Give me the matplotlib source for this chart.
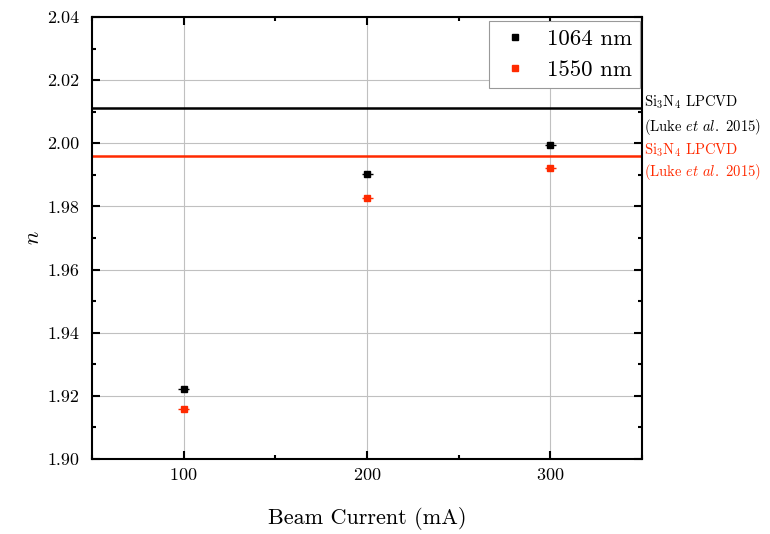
import matplotlib
matplotlib.use("Agg")
import matplotlib.pyplot as plt
from matplotlib.lines import Line2D
from matplotlib.ticker import MultipleLocator

plt.rcParams['font.family'] = 'cmr10'
plt.rcParams['mathtext.fontset'] = 'cm'
plt.rcParams['axes.formatter.use_mathtext'] = True

# refractive index vs. beam current
current = [100, 200, 300]
n_1064 = [1.9222, 1.9902, 1.9993]
n_1550 = [1.9160, 1.9827, 1.9922]
current_err = [3, 3, 3]

# Si3N4 LPCVD references (Luke et al. 2015)
ref_1064 = 2.0112
ref_1550 = 1.9960

red = '#ff2a00'

fig = plt.figure(figsize=(7.7, 5.34), dpi=100)
ax = fig.add_axes([0.1195, 0.1404, 0.7143, 0.8278])

ax.grid(True, color='#c0c0c0', linewidth=0.8, zorder=0)
ax.axhline(ref_1064, color='black', linewidth=1.8, zorder=2)
ax.axhline(ref_1550, color=red, linewidth=1.8, zorder=2)

ax.errorbar(current, n_1064, xerr=current_err, fmt='s', color='black',
            markersize=4.5, elinewidth=1, capsize=0, zorder=3)
ax.errorbar(current, n_1550, xerr=current_err, fmt='s', color=red,
            markersize=4.5, elinewidth=1, capsize=0, zorder=3)

ax.set_xlim(50, 350)
ax.set_ylim(1.90, 2.04)
ax.xaxis.set_major_locator(MultipleLocator(100))
ax.xaxis.set_minor_locator(MultipleLocator(50))
ax.yaxis.set_major_locator(MultipleLocator(0.02))
ax.yaxis.set_minor_locator(MultipleLocator(0.01))
ax.yaxis.set_major_formatter(plt.FormatStrFormatter('%.2f'))
ax.tick_params(which='both', direction='in', top=True, right=True, labelsize=13)
ax.tick_params(axis='y', pad=9)
ax.tick_params(axis='x', pad=6)
ax.tick_params(which='major', length=6, width=1.5)
ax.tick_params(which='minor', length=3, width=1.5)
for s in ax.spines.values():
    s.set_linewidth(1.5)

ax.set_xlabel('Beam Current (mA)', fontsize=16, labelpad=17)
ax.set_ylabel('$n$', fontsize=16, labelpad=3)

handles = [Line2D([], [], ls='none', marker='s', ms=4.5, color='black'),
           Line2D([], [], ls='none', marker='s', ms=4.5, color=red)]
leg = ax.legend(handles, ['1064 nm', '1550 nm'], loc='upper right',
                bbox_to_anchor=(0.997, 0.99), borderaxespad=0, fontsize=16.5,
                fancybox=False, edgecolor='#999999', handlelength=1.6,
                handletextpad=0.6, borderpad=0.35, labelspacing=0.45,
                framealpha=1)
leg.get_frame().set_linewidth(0.8)

ax.text(1.004, 0.808, 'Si$_3$N$_4$ LPCVD', transform=ax.transAxes, fontsize=10.5,
        color='black', va='center')
ax.text(1.004, 0.751, '(Luke $\\mathit{et\\ al.}$ 2015)', transform=ax.transAxes,
        fontsize=10.5, color='black', va='center')
ax.text(1.004, 0.699, 'Si$_3$N$_4$ LPCVD', transform=ax.transAxes, fontsize=10.5,
        color=red, va='center')
ax.text(1.004, 0.649, '(Luke $\\mathit{et\\ al.}$ 2015)', transform=ax.transAxes,
        fontsize=10.5, color=red, va='center')

fig.savefig('out.png', dpi=100)
